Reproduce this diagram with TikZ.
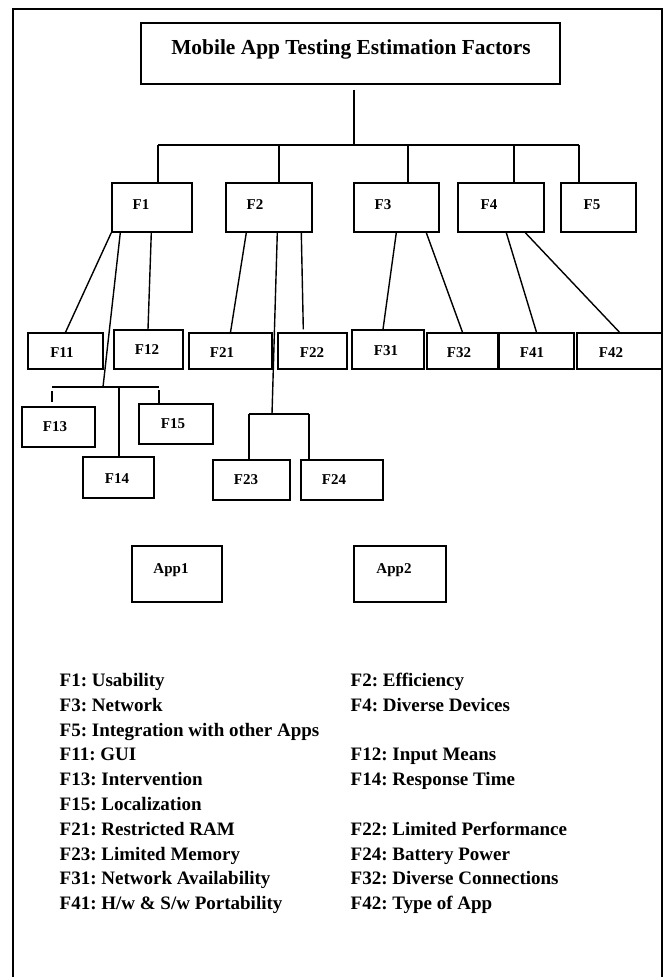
\documentclass[tikz,border=0pt]{standalone}
\usepackage{fontspec}
\setmainfont{Liberation Serif}
\frenchspacing
\begin{document}
\begin{tikzpicture}[x=1pt,y=-1pt,line width=1.4pt,
  fbox/.style={draw,rectangle,inner sep=0pt},
  flab/.style={inner sep=0pt,font=\fontsize{15}{18}\selectfont\bfseries},
  legend/.style={anchor=base west,inner sep=0pt,font=\fontsize{19}{22}\selectfont\bfseries}]
  \useasboundingbox (0,0) rectangle (667,977);
  % outer frame, open at the bottom
  \draw[line width=2pt] (13,977) -- (13,9) -- (662,9) -- (662,977);

  % title
  \node[fbox,minimum width=419pt,minimum height=61pt] (title) at (350.5,53.5) {};
  \node[anchor=base,inner sep=0pt,font=\fontsize{21.4}{25}\selectfont\bfseries] (ttl) at (351,54) {Mobile App Testing Estimation Factors};

  % first level
  \node[fbox,minimum width=80pt,minimum height=49pt] (f1) at (152,207.5) {};
  \node[fbox,minimum width=86pt,minimum height=49pt] (f2) at (269,207.5) {};
  \node[fbox,minimum width=85pt,minimum height=49pt] (f3) at (396.5,207.5) {};
  \node[fbox,minimum width=86pt,minimum height=49pt] (f4) at (501,207.5) {};
  \node[fbox,minimum width=75pt,minimum height=49pt] (f5) at (598.5,207.5) {};
  \node[flab] (l1) at (141,205) {F1};
  \node[flab] (l2) at (255,205) {F2};
  \node[flab] (l3) at (383,205) {F3};
  \node[flab] (l4) at (489,205) {F4};
  \node[flab] (l5) at (592,205) {F5};

  \coordinate (top) at (354,145);
  \coordinate (b1) at (158,145);
  \coordinate (b2) at (279,145);
  \coordinate (b3) at (408,145);
  \coordinate (b4) at (514,145);
  \coordinate (b5) at (579,145);
  \draw ([yshift=-5pt]title.south -| top) -- (top);
  \draw (b1) -- (b5);
  \draw (b1) -- (b1 |- f1.north);
  \draw (b2) -- (b2 |- f2.north);
  \draw (b3) -- (b3 |- f3.north);
  \draw (b4) -- (b4 |- f4.north);
  \draw (b5) -- (b5 |- f5.north);

  % second level
  \node[fbox,minimum width=75pt,minimum height=36pt] (f11) at (65.5,351) {};
  \node[fbox,minimum width=69pt,minimum height=39pt] (f12) at (148.5,349.5) {};
  \node[fbox,minimum width=83pt,minimum height=36pt] (f21) at (230.5,351) {};
  \node[fbox,minimum width=69pt,minimum height=36pt] (f22) at (312.5,351) {};
  \node[fbox,minimum width=72pt,minimum height=39pt] (f31) at (388,349.5) {};
  \node[fbox,minimum width=71pt,minimum height=36pt] (f32) at (462.5,351) {};
  \node[fbox,minimum width=75pt,minimum height=36pt] (f41) at (536.5,351) {};
  \node[fbox,minimum width=85pt,minimum height=36pt] (f42) at (619.5,351) {};
  \node[flab] (l11) at (62,353) {F11};
  \node[flab] (l12) at (147,350) {F12};
  \node[flab] (l21) at (222,353) {F21};
  \node[flab] (l22) at (312,353) {F22};
  \node[flab] (l31) at (386,351) {F31};
  \node[flab] (l32) at (459,353) {F32};
  \node[flab] (l41) at (532,353) {F41};
  \node[flab] (l42) at (611,353) {F42};

  \node[fbox,minimum width=73pt,minimum height=40pt] (f13) at (58.5,427) {};
  \node[fbox,minimum width=71pt,minimum height=41pt] (f14) at (118.5,477.5) {};
  \node[fbox,minimum width=74pt,minimum height=40pt] (f15) at (176,424) {};
  \node[fbox,minimum width=77pt,minimum height=40pt] (f23) at (251.5,480) {};
  \node[fbox,minimum width=82pt,minimum height=40pt] (f24) at (342,480) {};
  \node[flab] (l13) at (55,427) {F13};
  \node[flab] (l14) at (117,479) {F14};
  \node[flab] (l15) at (173,424) {F15};
  \node[flab] (l23) at (246,480) {F23};
  \node[flab] (l24) at (334,480) {F24};

  % F1 branches
  \coordinate (j1) at (103,387);
  \coordinate (j13) at (52,387);
  \coordinate (j14) at (119,387);
  \coordinate (j15) at (159,387);
  \draw (f1.south west) -- (f11.north);
  \draw ([xshift=9pt]f1.south west) -- (j1);
  \draw ([xshift=40pt]f1.south west) -- ([xshift=-0.5pt]f12.north);
  \draw (j13) -- (j15);
  \draw[shorten <=4pt,shorten >=4pt] (j13) -- (j13 |- f13.north);
  \draw (j14) -- (j14 |- f14.north);
  \draw[shorten <=3pt] (j15) -- (j15 |- f15.north);

  % F2 branches
  \coordinate (j2) at (272,414);
  \coordinate (j23) at (249,414);
  \coordinate (j24) at (309,414);
  \draw ([xshift=21pt]f2.south west) -- (f21.north);
  \draw ([xshift=52pt]f2.south west) -- (j2);
  \draw ([xshift=76pt]f2.south west) -- ([xshift=26pt,yshift=3pt]f22.north west);
  \draw (j23) -- (j24);
  \draw (j23) -- (j23 |- f23.north);
  \draw (j24) -- (j24 |- f24.north);

  % F3 and F4 branches
  \draw ([xshift=43pt]f3.south west) -- ([xshift=-5pt]f31.north);
  \draw ([xshift=73pt]f3.south west) -- (f32.north);
  \draw ([xshift=49pt]f4.south west) -- (f41.north);
  \draw ([xshift=68pt]f4.south west) -- (f42.north);

  % apps
  \node[fbox,minimum width=90pt,minimum height=56pt] (app1) at (177,574) {};
  \node[fbox,minimum width=92pt,minimum height=56pt] (app2) at (400,574) {};
  \node[flab,anchor=base] (la1) at (171,573) {App1};
  \node[flab,anchor=base] (la2) at (394,573) {App2};

  % legend
  \node[legend] (k1) at (59,686.5) {F1: Usability};
  \node[legend] (k2) at (350,686.5) {F2: Efficiency};
  \node[legend] (k3) at (59,711.3) {F3: Network};
  \node[legend] (k4) at (350,711.3) {F4: Diverse Devices};
  \node[legend] (k5) at (59,736.1) {F5: Integration with other Apps};
  \node[legend] (k11) at (59,760.8) {F11: GUI};
  \node[legend] (k12) at (350,760.8) {F12: Input Means};
  \node[legend] (k13) at (59,785.6) {F13: Intervention};
  \node[legend] (k14) at (350,785.6) {F14: Response Time};
  \node[legend] (k15) at (59,810.4) {F15: Localization};
  \node[legend] (k21) at (59,835.2) {F21: Restricted RAM};
  \node[legend] (k22) at (350,835.2) {F22: Limited Performance};
  \node[legend] (k23) at (59,860.0) {F23: Limited Memory};
  \node[legend] (k24) at (350,860.0) {F24: Battery Power};
  \node[legend] (k31) at (59,884.7) {F31: Network Availability};
  \node[legend] (k32) at (350,884.7) {F32: Diverse Connections};
  \node[legend] (k41) at (59,909.5) {F41: H/w \& S/w Portability};
  \node[legend] (k42) at (350,909.5) {F42: Type of App};
\end{tikzpicture}
\end{document}
